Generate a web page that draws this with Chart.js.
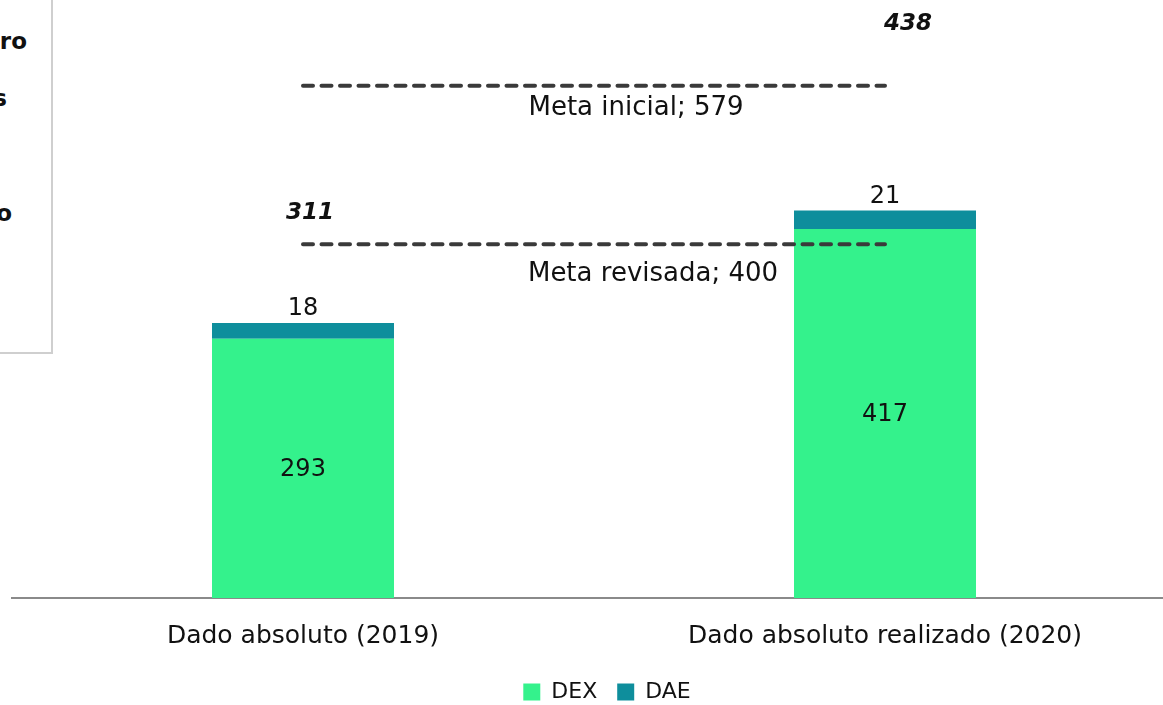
<!DOCTYPE html>
<html>
<head>
<meta charset="utf-8">
<script src="https://cdn.jsdelivr.net/npm/chart.js@4"></script>
<style>
    html, body { margin: 0; padding: 0; background: #fff; overflow: hidden; }
    #wrap { position: relative; width: 1216px; height: 705px; }
    #caixa {
        position: absolute; left: -300px; top: -2px; width: 349px; height: 352px;
        border: 2px solid #cfcfcf; background: #fff; overflow: hidden; z-index: 2;
        font: bold 23px "DejaVu Sans", sans-serif; color: #111;
    }
    #caixa div { position: absolute; white-space: nowrap; }
</style>
</head>
<body>
<div id="wrap">
    <div id="caixa">
        <div style="right: 24px; top: 28px;">Parâmetro</div>
        <div style="right: 44px; top: 85px;">dos</div>
        <div style="right: 39px; top: 200px;">absoluto</div>
    </div>
    <canvas id="graficoDados" width="1216" height="705"></canvas>
</div>
<script>
// ── Dati ─────────────────────────────────────────────
const categorie = ['Dado absoluto (2019)', 'Dado absoluto realizado (2020)'];
const valoriDEX = [293, 417];
const valoriDAE = [18, 21];
const metaRevisada = [400, 400];
const metaInicial = [579, 579];
const etichettaRevisada = 'Meta revisada; 400';
const etichettaInicial = 'Meta inicial; 579';

const totali = valoriDEX.map((v, i) => v + valoriDAE[i]);

const FONT = '"DejaVu Sans", sans-serif';

// ── Plugin etichette ─────────────────────────────────
const etichettePlugin = {
    id: 'etichette',
    afterDatasetsDraw(chart, args, opts) {
        const ctx = chart.ctx;
        const y = chart.scales.y;
        const metaDEX = chart.getDatasetMeta(0);
        const metaDAE = chart.getDatasetMeta(1);
        ctx.save();
        ctx.textAlign = 'center';
        ctx.textBaseline = 'middle';
        ctx.fillStyle = '#111';

        // valori DEX dentro la barra
        ctx.font = '24px ' + FONT;
        metaDEX.data.forEach((bar, i) => {
            ctx.fillText(String(valoriDEX[i]), bar.x, (bar.y + bar.base) / 2 + 1);
        });
        // valori DAE sopra la barra
        metaDAE.data.forEach((bar, i) => {
            ctx.fillText(String(valoriDAE[i]), bar.x, bar.y - 14);
        });

        // totali in grassetto corsivo
        ctx.font = 'italic bold 23px ' + FONT;
        metaDAE.data.forEach((bar, i) => {
            const off = opts.offsetTotali[i];
            ctx.fillText(String(totali[i]), bar.x + off.dx, y.getPixelForValue(totali[i]) + off.dy);
        });

        // etichette delle mete
        ctx.font = '26px ' + FONT;
        const x0 = metaDEX.data[0].x, x1 = metaDEX.data[1].x;
        ctx.fillText(etichettaRevisada, (x0 + x1) / 2 + 59, y.getPixelForValue(metaRevisada[0]) + 30);
        ctx.fillText(etichettaInicial, (x0 + x1) / 2 + 42, y.getPixelForValue(metaInicial[0]) + 22);
        ctx.restore();
    }
};

const lineaMeta = {
    type: 'line',
    borderColor: '#3a3a3a',
    borderWidth: 4,
    borderDash: [10, 8.5],
    borderCapStyle: 'round',
    pointRadius: 0,
    fill: false,
    order: 1
};

const ctx = document.getElementById('graficoDados').getContext('2d');
const grafico = new Chart(ctx, {
    type: 'bar',
    data: {
        labels: categorie,
        datasets: [
            {
                label: 'DEX',
                data: valoriDEX,
                backgroundColor: '#34F28C',
                stack: 'barre',
                order: 2,
                barPercentage: 0.3127,
                categoryPercentage: 1
            },
            {
                label: 'DAE',
                data: valoriDAE,
                backgroundColor: '#0E8E9C',
                stack: 'barre',
                order: 2,
                barPercentage: 0.3127,
                categoryPercentage: 1
            },
            Object.assign({ label: 'Meta revisada', data: metaRevisada, stack: 'meta1' }, lineaMeta),
            Object.assign({ label: 'Meta inicial', data: metaInicial, stack: 'meta2' }, lineaMeta)
        ]
    },
    options: {
        responsive: false,
        animation: false,
        layout: { padding: { left: 12, right: 14, top: 0, bottom: -8 } },
        scales: {
            x: {
                stacked: true,
                grid: { display: false, drawTicks: false },
                border: { display: true, color: '#8a8a8a', width: 2 },
                ticks: { color: '#111', font: { family: FONT, size: 25, lineHeight: 0.24 }, padding: 35 },
                afterFit: (scala) => { scala.height = 63; }
            },
            y: {
                stacked: true,
                position: 'right',
                min: 0,
                max: 676,
                grid: { display: false, drawTicks: false },
                border: { display: false },
                ticks: { display: false },
                afterFit: (scala) => { scala.width = 26; }
            }
        },
        plugins: {
            legend: {
                position: 'bottom',
                labels: {
                    filter: (item) => item.datasetIndex < 2,
                    boxWidth: 17,
                    boxHeight: 17,
                    padding: 20,
                    color: '#111',
                    font: { family: FONT, size: 22 }
                }
            },
            tooltip: { enabled: false },
            etichette: {
                offsetTotali: [{ dx: 7, dy: -110 }, { dx: 23, dy: -187 }]
            }
        }
    },
    plugins: [etichettePlugin]
});
</script>
</body>
</html>
